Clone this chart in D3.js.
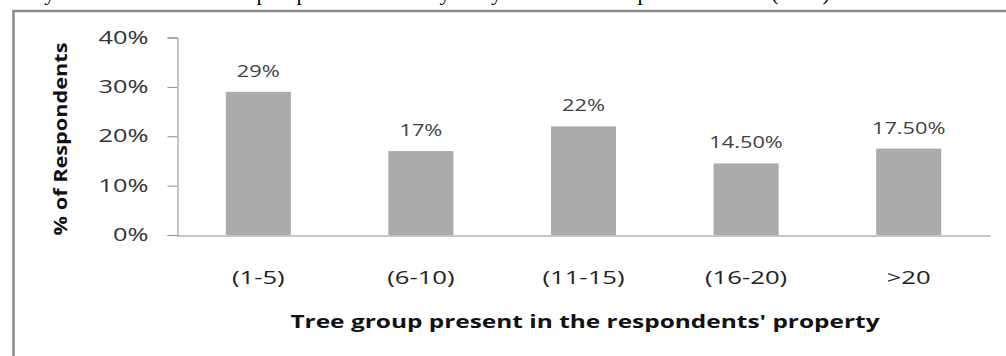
<!DOCTYPE html>
<html>
<head>
<meta charset="utf-8">
<script src="https://cdn.jsdelivr.net/npm/d3@7"></script>
<style>
  html, body { margin: 0; padding: 0; background: #fff; }
  svg { display: block; }
</style>
</head>
<body>
<svg id="chart" width="1006" height="356"></svg>
<script>
// ---- data ----
const categories = ["(1-5)", "(6-10)", "(11-15)", "(16-20)", ">20"];
const values = [0.29, 0.17, 0.22, 0.145, 0.175];
const valueLabels = ["29%", "17%", "22%", "14.50%", "17.50%"];
const yTicks = [0, 0.1, 0.2, 0.3, 0.4];
const yTitle = "% of Respondents";
const xTitle = "Tree group present in the respondents' property";
// caption line of the surrounding document, cut by the top edge (only descenders show)
const captionParts = [
  ["Study on the number of all", 4],
  ["plot", 256.5],
  ["present on the", 296.5],
  ["by", 428.5],
  ["many of the local", 453],
  ["respondents in", 611.8],
  ["(2012)", 771.3]
];

// ---- layout ----
const W = 1006, H = 356;
const plot = { left: 177, right: 990, top: 37.5, bottom: 235 };
const FONT = "'Open Sans', 'Liberation Sans', sans-serif";

const svg = d3.select("#chart");
svg.append("rect").attr("width", W).attr("height", H).attr("fill", "#fff");

// clipped caption line at very top
const cap = svg.append("text")
  .attr("y", 0)
  .attr("font-family", "'Liberation Serif', 'Times New Roman', serif")
  .attr("font-size", 22)
  .attr("fill", "#000");
cap.selectAll("tspan")
  .data(captionParts)
  .join("tspan")
  .attr("x", d => d[1])
  .text(d => d[0]);

// outer frame (top and left edges visible)
svg.append("path")
  .attr("d", d3.line()([[13.5, H], [13.5, 11], [W, 11]]))
  .attr("fill", "none")
  .attr("stroke", "#8a8a8a")
  .attr("stroke-width", 2.5);

const x = d3.scaleBand()
  .domain(categories)
  .range([plot.left, plot.right])
  .paddingInner(0.6)
  .paddingOuter(0.3);

const y = d3.scaleLinear()
  .domain([0, 0.4])
  .range([plot.bottom, plot.top]);

// bars
svg.append("g").selectAll("rect")
  .data(values)
  .join("rect")
  .attr("x", (d, i) => x(categories[i]))
  .attr("y", d => y(d))
  .attr("width", x.bandwidth())
  .attr("height", d => y(0) - y(d))
  .attr("fill", "#ababab");

// value labels
svg.append("g").selectAll("text")
  .data(values)
  .join("text")
  .attr("transform", (d, i) => `translate(${x(categories[i]) + x.bandwidth() / 2},${y(d) - 15}) scale(1.32,1)`)
  .attr("text-anchor", "middle")
  .attr("font-family", FONT)
  .attr("font-size", 16.5)
  .attr("fill", "#404040")
  .text((d, i) => valueLabels[i]);

// y axis
const yAxis = d3.axisLeft(y)
  .tickValues(yTicks)
  .tickFormat(d3.format(".0%"))
  .tickSize(10)
  .tickSizeOuter(10);

const gy = svg.append("g")
  .attr("transform", `translate(${plot.left + 0.5},0)`)
  .call(yAxis);
gy.select(".domain").attr("stroke", "#8c8c8c").attr("stroke-width", 1);
gy.selectAll(".tick line").attr("stroke", "#8c8c8c").attr("stroke-width", 1);
gy.selectAll(".tick text")
  .attr("x", null)
  .attr("transform", `translate(-29,0) scale(1.45,1)`)
  .attr("font-family", FONT)
  .attr("font-size", 17.5)
  .attr("fill", "#333");

// x axis
const xAxis = d3.axisBottom(x).tickSize(0).tickSizeOuter(0);
const gx = svg.append("g")
  .attr("transform", `translate(0,${plot.bottom + 0.5})`)
  .call(xAxis);
gx.select(".domain").attr("stroke", "#8c8c8c").attr("stroke-width", 1);
gx.selectAll(".tick text")
  .attr("y", null)
  .attr("dy", null)
  .attr("transform", `translate(0,48) scale(1.39,1)`)
  .attr("font-family", FONT)
  .attr("font-size", 18.5)
  .attr("fill", "#222");

// axis titles
svg.append("text")
  .attr("transform", `translate(67,139) rotate(-90) scale(1.24,1)`)
  .attr("text-anchor", "middle")
  .attr("font-family", FONT)
  .attr("font-weight", "bold")
  .attr("font-size", 17.5)
  .attr("fill", "#111")
  .text(yTitle);

svg.append("text")
  .attr("transform", `translate(585,328) scale(1.314,1)`)
  .attr("text-anchor", "middle")
  .attr("font-family", FONT)
  .attr("font-weight", "bold")
  .attr("font-size", 18.6)
  .attr("fill", "#111")
  .text(xTitle);
</script>
</body>
</html>
